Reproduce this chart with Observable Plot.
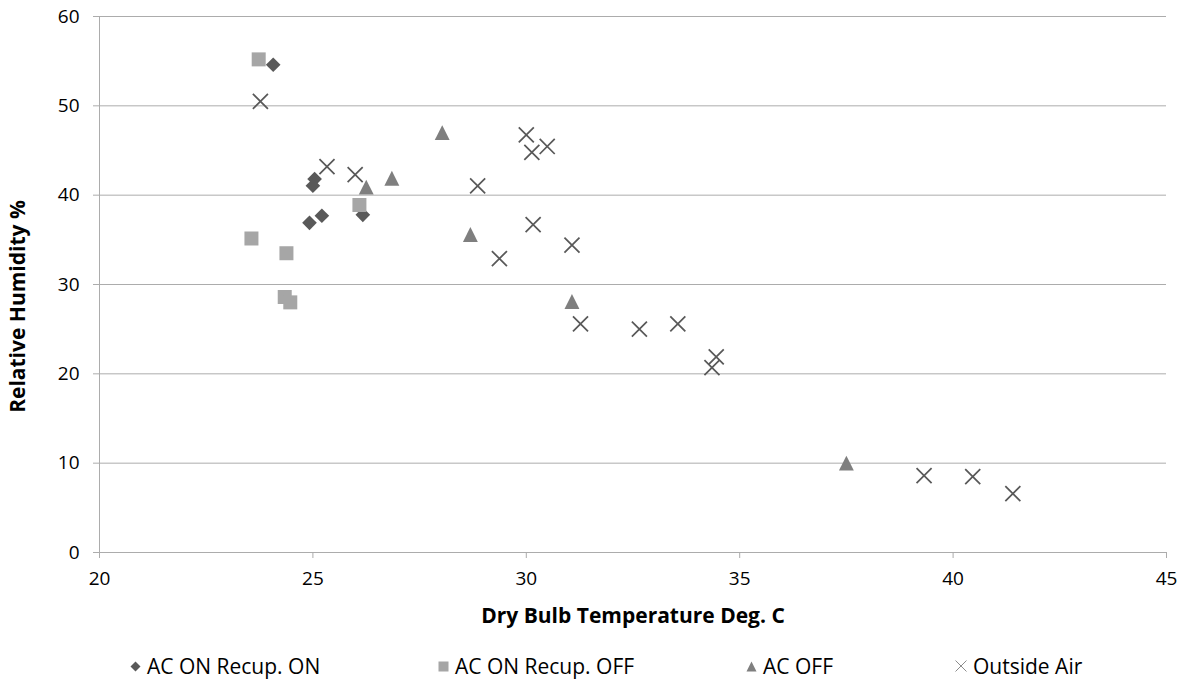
<!DOCTYPE html>
<html><head><meta charset="utf-8">
<script src="https://cdn.jsdelivr.net/npm/d3@7"></script>
<script src="https://cdn.jsdelivr.net/npm/@observablehq/plot@0.6"></script>
<style>
body{margin:0;background:#fff;font-family:"Open Sans",sans-serif;}
#chart{position:relative;width:1184px;height:681px;overflow:hidden;}
#legend{position:absolute;left:0;top:652px;width:1184px;height:28px;font-size:21px;color:#000;}
.item{position:absolute;top:0;height:28px;display:flex;align-items:center;gap:6px;white-space:nowrap;}
.item svg{display:block;}
</style></head><body>
<div id="chart"></div>
<script>
// ---- data ----
const seriesNames = ["AC ON Recup. ON", "AC ON Recup. OFF", "AC OFF", "Outside Air"];

const recupOnTemp = [24.07, 25.04, 25.00, 24.92, 25.21, 26.17];
const recupOnRH   = [54.6, 41.8, 41.05, 36.9, 37.7, 37.8];

const recupOffTemp = [23.73, 23.56, 24.38, 24.34, 24.47, 26.09];
const recupOffRH   = [55.2, 35.15, 33.5, 28.6, 28.0, 38.9];

const acOffTemp = [26.25, 26.85, 28.03, 28.69, 31.07, 37.50];
const acOffRH   = [40.9, 41.9, 47.0, 35.6, 28.1, 10.0];

const outsideTemp = [23.77, 25.33, 25.99, 28.86, 30.00, 30.13, 30.49, 30.16, 29.37, 31.07, 31.27, 32.65, 33.55, 34.45, 34.35, 39.32, 40.46, 41.40];
const outsideRH   = [50.5, 43.2, 42.3, 41.05, 46.75, 44.8, 45.45, 36.7, 32.9, 34.4, 25.6, 25.0, 25.6, 21.9, 20.7, 8.6, 8.5, 6.6];

const xTicks = [20, 25, 30, 35, 40, 45];
const yTicks = [0, 10, 20, 30, 40, 50, 60];
const xTitle = "Dry Bulb Temperature Deg. C";
const yTitle = "Relative Humidity %";

// ---- build tables ----
const toRows = (name, xs, ys) => xs.map((t, i) => ({series: name, t, rh: ys[i]}));
const recupOn = toRows(seriesNames[0], recupOnTemp, recupOnRH);
const recupOff = toRows(seriesNames[1], recupOffTemp, recupOffRH);
const acOff = toRows(seriesNames[2], acOffTemp, acOffRH);
const outside = toRows(seriesNames[3], outsideTemp, outsideRH);

// Excel-like triangle (width == height, centred on bbox)
const triangleSym = {draw(ctx, size) {
  const a = Math.sqrt(size) / 2;
  ctx.moveTo(0, -a); ctx.lineTo(a, a); ctx.lineTo(-a, a); ctx.closePath();
}};

const gridColor = "#acacac";

const chart = Plot.plot({
  width: 1184,
  height: 640,
  marginLeft: 99,
  marginRight: 18,
  marginTop: 16,
  marginBottom: 88,
  style: {fontFamily: "'Open Sans', sans-serif", fontSize: "19px", background: "white", color: "#000"},
  x: {domain: [20, 45]},
  y: {domain: [0, 60]},
  marks: [
    Plot.gridY(yTicks, {stroke: gridColor, strokeOpacity: 1}),
    Plot.ruleX([20], {stroke: gridColor}),
    Plot.axisY(yTicks, {tickSize: 6, tickPadding: 14, stroke: gridColor, fill: "#000", fontSize: 19, label: null}),
    Plot.axisX(xTicks, {tickSize: 6, tickPadding: 13, stroke: gridColor, fill: "#000", fontSize: 19, label: null}),
    Plot.text([xTitle], {frameAnchor: "bottom", dy: 70, fontWeight: "bold", fontSize: 21, fill: "#000"}),
    Plot.text([yTitle], {frameAnchor: "left", textAnchor: "middle", dx: -81, dy: 22, rotate: -90, fontWeight: "bold", fontSize: 21, fill: "#000"}),
    Plot.dot(recupOn, {x: "t", y: "rh", symbol: "diamond2", r: 6.6, fill: "#595959"}),
    Plot.dot(recupOff, {x: "t", y: "rh", symbol: "square", r: 7.9, fill: "#a6a6a6"}),
    Plot.dot(acOff, {x: "t", y: "rh", symbol: triangleSym, r: 8.4, fill: "#7f7f7f"}),
    Plot.dot(outside, {x: "t", y: "rh", symbol: "times", r: 6.9, stroke: "#595959", strokeWidth: 1.75})
  ]
});
const holder = document.getElementById("chart");
holder.appendChild(chart);

// ---- legend ----
const swatches = [
  '<svg width="11" height="11" viewBox="-5.5 -5.5 11 11"><path d="M0,-5L5,0L0,5L-5,0Z" fill="#595959"/></svg>',
  '<svg width="11" height="11" viewBox="-5.5 -5.5 11 11"><rect x="-5" y="-5" width="10" height="10" fill="#a6a6a6"/></svg>',
  '<svg width="11" height="11" viewBox="-5.5 -5.5 11 11"><path d="M0,-5L5,5L-5,5Z" fill="#7f7f7f"/></svg>',
  '<svg width="12" height="12" viewBox="-6 -6 12 12"><path d="M-5.5,-5.5L5.5,5.5M-5.5,5.5L5.5,-5.5" stroke="#8c8c8c" stroke-width="1"/></svg>'
];
const legendLeft = [130, 438, 746, 955];
const legend = document.createElement("div");
legend.id = "legend";
seriesNames.forEach((name, i) => {
  const it = document.createElement("div");
  it.className = "item";
  it.style.left = legendLeft[i] + "px";
  it.innerHTML = swatches[i] + "<span>" + name + "</span>";
  legend.appendChild(it);
});
holder.appendChild(legend);
</script>
</body></html>
